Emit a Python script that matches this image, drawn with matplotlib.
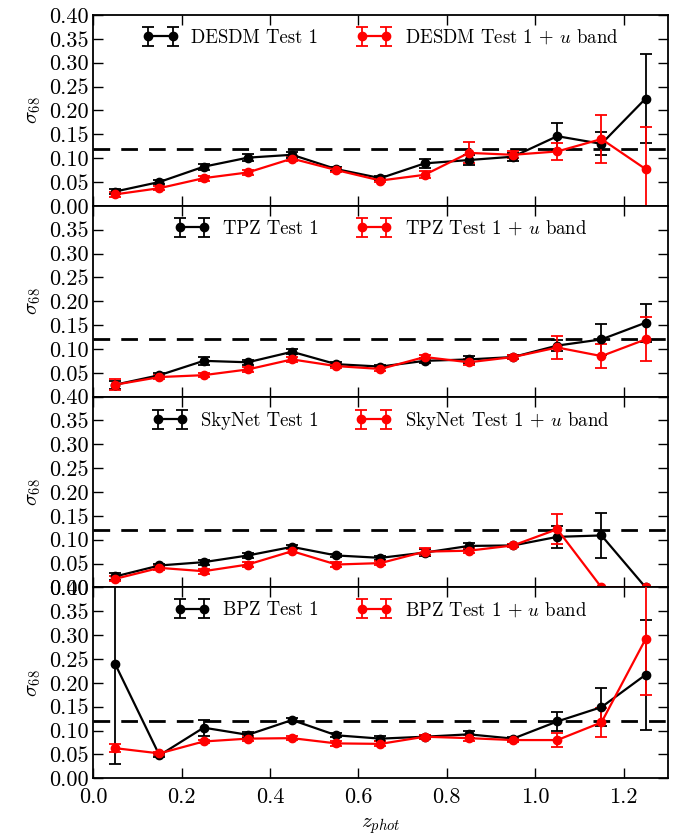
#!/usr/bin/env python3
"""
sigma_68 vs z_phot for four photo-z codes, with and without u band
"""

import numpy as np
import matplotlib
matplotlib.use('Agg')
import matplotlib.pyplot as plt
from matplotlib import rcParams
from matplotlib.ticker import FormatStrFormatter

rcParams['font.family'] = 'serif'
rcParams['font.serif'] = ['cmr10', 'DejaVu Serif']
rcParams['mathtext.fontset'] = 'cm'
rcParams['axes.formatter.use_mathtext'] = True
rcParams['axes.unicode_minus'] = False

# bin centres
z_bins = [0.05, 0.15, 0.25, 0.35, 0.45, 0.55, 0.65, 0.75, 0.85, 0.95, 1.05, 1.15, 1.25]

codes = ['DESDM', 'TPZ', 'SkyNet', 'BPZ']

# Test 1 (black)
desdm_t1 = [0.030, 0.050, 0.082, 0.101, 0.107, 0.077, 0.058, 0.089, 0.096, 0.103, 0.146, 0.130, 0.225]
desdm_t1_err = [0.005, 0.004, 0.006, 0.007, 0.006, 0.004, 0.004, 0.009, 0.011, 0.008, 0.028, 0.024, 0.094]
tpz_t1 = [0.025, 0.045, 0.075, 0.072, 0.094, 0.068, 0.063, 0.075, 0.078, 0.083, 0.107, 0.120, 0.155]
tpz_t1_err = [0.008, 0.004, 0.008, 0.005, 0.005, 0.004, 0.004, 0.005, 0.007, 0.004, 0.012, 0.033, 0.040]
skynet_t1 = [0.023, 0.046, 0.053, 0.067, 0.085, 0.067, 0.062, 0.073, 0.087, 0.088, 0.106, 0.109, 0.000]
skynet_t1_err = [0.008, 0.004, 0.005, 0.006, 0.004, 0.004, 0.004, 0.008, 0.006, 0.004, 0.023, 0.048, 0.000]
bpz_t1 = [0.239, 0.048, 0.106, 0.091, 0.122, 0.090, 0.083, 0.087, 0.092, 0.083, 0.119, 0.149, 0.217]
bpz_t1_err = [0.210, 0.004, 0.017, 0.006, 0.005, 0.004, 0.006, 0.004, 0.007, 0.004, 0.019, 0.040, 0.115]

# Test 1 + u band (red)
desdm_u = [0.024, 0.037, 0.058, 0.070, 0.099, 0.075, 0.053, 0.065, 0.111, 0.107, 0.114, 0.140, 0.077]
desdm_u_err = [0.005, 0.004, 0.005, 0.005, 0.005, 0.005, 0.004, 0.007, 0.022, 0.007, 0.017, 0.051, 0.089]
tpz_u = [0.025, 0.041, 0.045, 0.057, 0.078, 0.064, 0.058, 0.083, 0.072, 0.083, 0.103, 0.085, 0.120]
tpz_u_err = [0.012, 0.004, 0.004, 0.005, 0.005, 0.004, 0.004, 0.005, 0.006, 0.005, 0.025, 0.026, 0.046]
skynet_u = [0.018, 0.041, 0.034, 0.048, 0.076, 0.048, 0.051, 0.075, 0.077, 0.088, 0.122, 0.000, 0.000]
skynet_u_err = [0.005, 0.004, 0.005, 0.005, 0.004, 0.005, 0.004, 0.008, 0.005, 0.004, 0.031, 0.000, 0.000]
bpz_u = [0.063, 0.052, 0.077, 0.083, 0.084, 0.073, 0.072, 0.087, 0.084, 0.080, 0.080, 0.117, 0.292]
bpz_u_err = [0.009, 0.004, 0.004, 0.005, 0.004, 0.005, 0.005, 0.004, 0.006, 0.004, 0.014, 0.030, 0.118]

t1_series = [(desdm_t1, desdm_t1_err), (tpz_t1, tpz_t1_err),
             (skynet_t1, skynet_t1_err), (bpz_t1, bpz_t1_err)]
u_series = [(desdm_u, desdm_u_err), (tpz_u, tpz_u_err),
            (skynet_u, skynet_u_err), (bpz_u, bpz_u_err)]

target = 0.12

fig, axes = plt.subplots(4, 1, sharex=True, figsize=(6.8, 8.35), dpi=100)
fig.subplots_adjust(left=0.137, right=0.982, top=0.982, bottom=0.068, hspace=0)

for i, ax in enumerate(axes):
    t1, t1_err = t1_series[i]
    u, u_err = u_series[i]

    ax.errorbar(z_bins, t1, yerr=t1_err, color='k', marker='o', markersize=6,
                linewidth=1.6, elinewidth=1.3, capsize=4, capthick=1.3,
                label='%s Test 1' % codes[i], zorder=3)
    ax.errorbar(z_bins, u, yerr=u_err, color='r', ecolor='r', marker='o',
                markersize=6, markeredgecolor='r', linewidth=1.6,
                elinewidth=1.3, capsize=4, capthick=1.3,
                label='%s Test 1 + $u$ band' % codes[i], zorder=3)

    ax.axhline(target, color='k', linestyle='--', linewidth=2, dashes=(6, 4), zorder=2)

    ax.set_xlim(0.0, 1.3)
    ax.set_ylim(0.0, 0.40)
    if i == 1:
        ax.set_yticks(np.arange(0.05, 0.351, 0.05))
    else:
        ax.set_yticks(np.arange(0.0, 0.401, 0.05))
    ax.yaxis.set_major_formatter(FormatStrFormatter('%.2f'))
    ax.set_xticks(np.arange(0.0, 1.21, 0.2))
    ax.xaxis.set_major_formatter(FormatStrFormatter('%.1f'))

    ax.tick_params(axis='both', which='major', direction='in', length=7, width=1,
                   top=True, right=True, labelsize=16)
    ax.tick_params(axis='x', pad=7)
    for spine in ax.spines.values():
        spine.set_linewidth(1.3)

    ax.set_ylabel(r'$\sigma_{68}$', fontsize=15, labelpad=4)

    ax.legend(loc='upper center', ncol=2, frameon=False, numpoints=2,
              fontsize=13.5, handlelength=1.9, handletextpad=0.7,
              columnspacing=2.0, borderaxespad=0.3)

axes[-1].set_xlabel(r'$z_{phot}$', fontsize=15, labelpad=6)

plt.savefig('out.png', dpi=100, facecolor='white')
